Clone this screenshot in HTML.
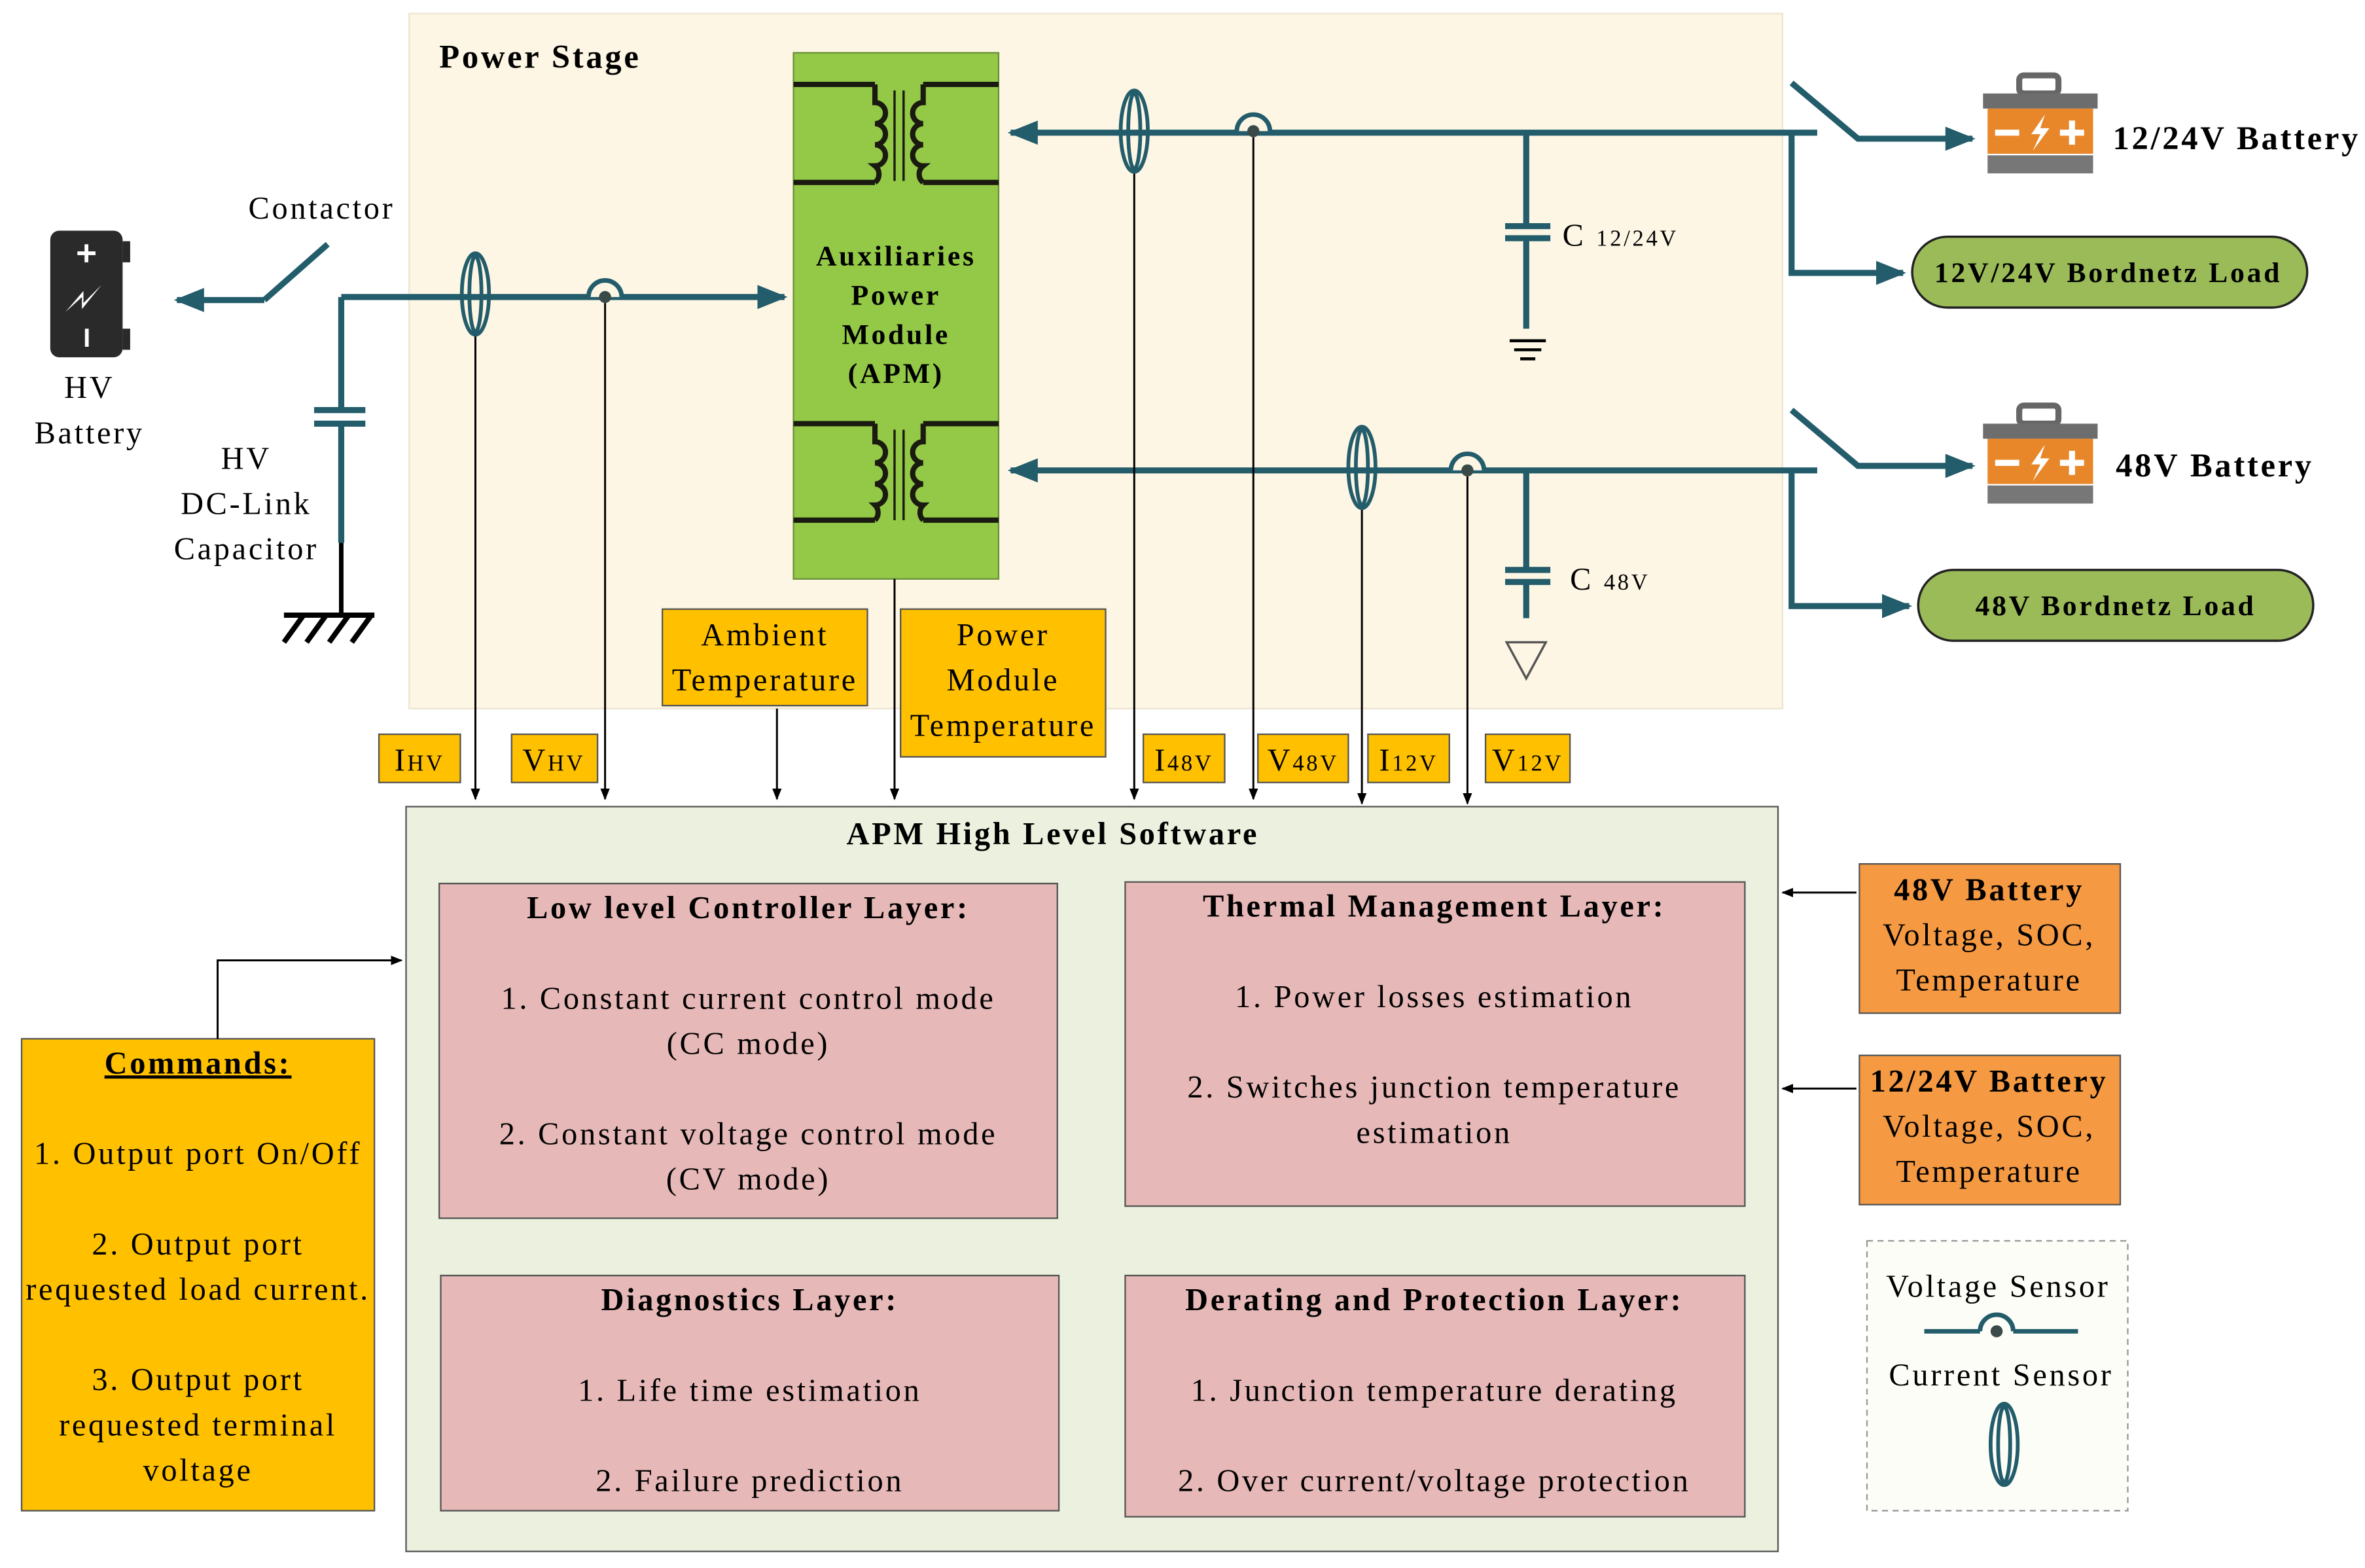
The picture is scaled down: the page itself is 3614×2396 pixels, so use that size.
<!DOCTYPE html>
<html><head><meta charset="utf-8"><style>
html,body{margin:0;padding:0;background:#fff}
svg{display:block}
text{font-family:"Liberation Serif",serif;fill:#000;letter-spacing:1.6px}
.b{font-weight:bold}
</style></head><body>
<svg width="3614" height="2396" viewBox="0 0 1568 1040" xmlns="http://www.w3.org/2000/svg">
<defs>
<marker id="ta" viewBox="0 0 10 10" refX="9" refY="5" markerWidth="5" markerHeight="5" orient="auto-start-reverse"><path d="M0,1 L10,5 L0,9 Z" fill="#235c6a"/></marker>
<marker id="ka" viewBox="0 0 10 10" refX="9" refY="5" markerWidth="6" markerHeight="6" orient="auto"><path d="M0,1 L10,5 L0,9 Z" fill="#000"/></marker>
</defs>
<!-- power stage -->
<rect x="271" y="9" width="911" height="461" fill="#fdf6e4" stroke="#ece5d0"/>
<text x="291" y="45" font-size="22" class="b">Power Stage</text>
<!-- APM -->
<rect x="526" y="35" width="136" height="349" fill="#93c947" stroke="#6b8f3a"/>
<g stroke="#1a1a10" stroke-width="3.5" fill="none">
<path d="M526,56 H580 M526,121 H580 M580,56 v12 a7,7 0 0 1 0,14 a7,7 0 0 1 0,14 a7,7 0 0 1 0,14 a7,7 0 0 1 0,11"/>
<path d="M662,56 H612 M662,121 H612 M612,56 v12 a7,7 0 0 0 0,14 a7,7 0 0 0 0,14 a7,7 0 0 0 0,14 a7,7 0 0 0 0,11"/>
<path d="M526,281 H580 M526,345 H580 M580,281 v12 a7,7 0 0 1 0,14 a7,7 0 0 1 0,14 a7,7 0 0 1 0,14 a7,7 0 0 1 0,10"/>
<path d="M662,281 H612 M662,345 H612 M612,281 v12 a7,7 0 0 0 0,14 a7,7 0 0 0 0,14 a7,7 0 0 0 0,14 a7,7 0 0 0 0,10"/>
</g>
<g stroke="#1a1a10" stroke-width="1.5"><path d="M593,60 V120 M599,60 V120 M593,285 V345 M599,285 V345"/></g>
<g font-size="19" class="b" text-anchor="middle"><text x="594" y="176">Auxiliaries</text><text x="594" y="202">Power</text><text x="594" y="228">Module</text><text x="594" y="254">(APM)</text></g>
<!-- HV side -->
<rect x="33" y="153" width="48" height="84" rx="6" fill="#2a2a2a"/>
<rect x="81" y="160" width="5" height="14" fill="#2a2a2a"/><rect x="81" y="218" width="5" height="14" fill="#2a2a2a"/>
<path d="M51,168 H63 M57,162 V174" stroke="#fff" stroke-width="2.5"/>
<path d="M43,207 L55,193 L55,201 L67,189 L54,205 L54,197 Z" fill="#fff"/>
<rect x="56" y="218" width="2.5" height="12" fill="#fff"/>
<text x="59" y="264" font-size="21" text-anchor="middle">HV</text>
<text x="59" y="294" font-size="21" text-anchor="middle">Battery</text>
<text x="213" y="145" font-size="21" text-anchor="middle">Contactor</text>
<g stroke="#235c6a" stroke-width="4" fill="none">
<path d="M175,199 H117" marker-end="url(#ta)"/>
<path d="M175,199 L217,162"/>
<path d="M226,197 H520" marker-end="url(#ta)"/>
<path d="M226,197 V272 M226,282 V360"/>
<path d="M208,272 H242 M208,281 H242"/>
</g>
<path d="M226,360 V408" stroke="#000" stroke-width="3"/>
<path d="M188,408 H248 M188,426 L201,408 M203,426 L216,408 M218,426 L231,408 M233,426 L246,408" stroke="#000" stroke-width="3.5" fill="none"/>
<g font-size="21" text-anchor="middle"><text x="163" y="311">HV</text><text x="163" y="341">DC-Link</text><text x="163" y="371">Capacitor</text></g>
<!-- upper bus -->
<g stroke="#235c6a" stroke-width="4" fill="none">
<path d="M1205,88 H670" marker-end="url(#ta)"/>
<path d="M1205,312 H670" marker-end="url(#ta)"/>
<path d="M1012,88 V150 M998,150 H1028 M998,158 H1028 M1012,158 V218"/>
<path d="M1012,312 V378 M998,378 H1028 M998,386 H1028 M1012,386 V410"/>
<path d="M1188,88 V181 H1262" marker-end="url(#ta)"/>
<path d="M1188,312 V402 H1266" marker-end="url(#ta)"/>
<path d="M1188,55 L1232,92 H1308" marker-end="url(#ta)"/>
<path d="M1188,272 L1232,309 H1308" marker-end="url(#ta)"/>
</g>
<path d="M1001,226 H1025 M1004,232 H1022 M1008,238 H1018" stroke="#000" stroke-width="2"/>
<path d="M999,426 H1025 L1012,450 Z" fill="none" stroke="#555" stroke-width="1.5"/>
<text x="1036" y="163" font-size="21">C <tspan font-size="15">12/24V</tspan></text>
<text x="1041" y="391" font-size="21">C <tspan font-size="15">48V</tspan></text>
<!-- sensing lines -->
<g stroke="#000" stroke-width="1.3" fill="none">
<path d="M315,222 V530" marker-end="url(#ka)"/><path d="M401,201 V530" marker-end="url(#ka)"/>
<path d="M515,470 V530" marker-end="url(#ka)"/><path d="M593,384 V530" marker-end="url(#ka)"/>
<path d="M752,114 V530" marker-end="url(#ka)"/><path d="M831,91 V530" marker-end="url(#ka)"/>
<path d="M903,337 V533" marker-end="url(#ka)"/><path d="M973,316 V533" marker-end="url(#ka)"/>
</g>
<!-- batteries -->
<g>
<rect x="1339" y="50" width="26" height="12" rx="3" fill="none" stroke="#666" stroke-width="4"/>
<rect x="1315" y="62" width="76" height="10" fill="#6d6d6d"/>
<rect x="1318" y="72" width="70" height="30" fill="#e8872a"/>
<rect x="1318" y="103" width="70" height="12" fill="#777"/>
<path d="M1323,88 H1339 M1366,88 H1382 M1374,80 V96" stroke="#fff" stroke-width="4"/>
<path d="M1356,76 L1347,89 L1353,89 L1348,100 L1359,85 L1353,85 Z" fill="#fff"/>
</g>
<g transform="translate(0,219)">
<rect x="1339" y="50" width="26" height="12" rx="3" fill="none" stroke="#666" stroke-width="4"/>
<rect x="1315" y="62" width="76" height="10" fill="#6d6d6d"/>
<rect x="1318" y="72" width="70" height="30" fill="#e8872a"/>
<rect x="1318" y="103" width="70" height="12" fill="#777"/>
<path d="M1323,88 H1339 M1366,88 H1382 M1374,80 V96" stroke="#fff" stroke-width="4"/>
<path d="M1356,76 L1347,89 L1353,89 L1348,100 L1359,85 L1353,85 Z" fill="#fff"/>
</g>
<text x="1401" y="99" font-size="22" class="b">12/24V Battery</text>
<text x="1403" y="316" font-size="22" class="b">48V Battery</text>
<rect x="1268" y="157" width="262" height="47" rx="23.5" fill="#9bbb59" stroke="#222" stroke-width="1.5"/>
<text x="1398" y="187" font-size="19" class="b" text-anchor="middle">12V/24V Bordnetz Load</text>
<rect x="1272" y="378" width="262" height="47" rx="23.5" fill="#9bbb59" stroke="#222" stroke-width="1.5"/>
<text x="1403" y="408" font-size="19" class="b" text-anchor="middle">48V Bordnetz Load</text>
<!-- yellow labels -->
<g fill="#ffc000" stroke="#555" stroke-width="1">
<rect x="439" y="404" width="136" height="64"/><rect x="597" y="404" width="136" height="98"/>
<rect x="251" y="487" width="54" height="32"/><rect x="339" y="487" width="57" height="32"/>
<rect x="758" y="487" width="54" height="32"/><rect x="834" y="487" width="60" height="32"/>
<rect x="907" y="487" width="54" height="32"/><rect x="985" y="487" width="56" height="32"/>
</g>
<g font-size="21" text-anchor="middle">
<text x="507" y="428">Ambient</text><text x="507" y="458">Temperature</text>
<text x="665" y="428">Power</text><text x="665" y="458">Module</text><text x="665" y="488">Temperature</text>
<text x="278" y="511">I<tspan font-size="15">HV</tspan></text><text x="367" y="511">V<tspan font-size="15">HV</tspan></text>
<text x="785" y="511">I<tspan font-size="15">48V</tspan></text><text x="864" y="511">V<tspan font-size="15">48V</tspan></text>
<text x="934" y="511">I<tspan font-size="15">12V</tspan></text><text x="1013" y="511">V<tspan font-size="15">12V</tspan></text>
</g>
<!-- software -->
<rect x="269" y="535" width="910" height="494" fill="#ebf1de" stroke="#555" stroke-width="1"/>
<text x="698" y="560" font-size="21" class="b" text-anchor="middle">APM High Level Software</text>
<g fill="#e6b8b7" stroke="#555" stroke-width="1">
<rect x="291" y="586" width="410" height="222"/><rect x="746" y="585" width="411" height="215"/>
<rect x="292" y="846" width="410" height="156"/><rect x="746" y="846" width="411" height="160"/>
</g>
<g font-size="21" text-anchor="middle">
<text x="496" y="609" class="b">Low level Controller Layer:</text>
<text x="496" y="669">1. Constant current control mode</text><text x="496" y="699">(CC mode)</text>
<text x="496" y="759">2. Constant voltage control mode</text><text x="496" y="789">(CV mode)</text>
<text x="951" y="608" class="b">Thermal Management Layer:</text>
<text x="951" y="668">1. Power losses estimation</text>
<text x="951" y="728">2. Switches junction temperature</text><text x="951" y="758">estimation</text>
<text x="497" y="869" class="b">Diagnostics Layer:</text>
<text x="497" y="929">1. Life time estimation</text><text x="497" y="989">2. Failure prediction</text>
<text x="951" y="869" class="b">Derating and Protection Layer:</text>
<text x="951" y="929">1. Junction temperature derating</text><text x="951" y="989">2. Over current/voltage protection</text>
</g>
<!-- commands -->
<rect x="14" y="689" width="234" height="313" fill="#ffc000" stroke="#555"/>
<g font-size="21" text-anchor="middle">
<text x="131" y="712" class="b" text-decoration="underline">Commands:</text>
<text x="131" y="772">1. Output port On/Off</text>
<text x="131" y="832">2. Output port</text><text x="131" y="862">requested load current.</text>
<text x="131" y="922">3. Output port</text><text x="131" y="952">requested terminal</text><text x="131" y="982">voltage</text>
</g>
<path d="M144,689 V637 H266" stroke="#000" stroke-width="1.3" fill="none" marker-end="url(#ka)"/>
<!-- battery info -->
<rect x="1233" y="573" width="173" height="99" fill="#f59a42" stroke="#555"/>
<rect x="1233" y="700" width="173" height="99" fill="#f59a42" stroke="#555"/>
<g font-size="21" text-anchor="middle">
<text x="1319" y="597" class="b">48V Battery</text><text x="1319" y="627">Voltage, SOC,</text><text x="1319" y="657">Temperature</text>
<text x="1319" y="724" class="b">12/24V Battery</text><text x="1319" y="754">Voltage, SOC,</text><text x="1319" y="784">Temperature</text>
</g>
<path d="M1231,592 H1182" stroke="#000" stroke-width="1.3" marker-end="url(#ka)"/>
<path d="M1231,722 H1182" stroke="#000" stroke-width="1.3" marker-end="url(#ka)"/>
<!-- legend -->
<rect x="1238" y="823" width="173" height="179" fill="#fdfdf8" stroke="#999" stroke-dasharray="4,3"/>
<g font-size="21" text-anchor="middle"><text x="1325" y="860">Voltage Sensor</text><text x="1327" y="919">Current Sensor</text></g>
<path d="M1276,883 H1313 M1335,883 H1378" stroke="#235c6a" stroke-width="3"/>
<!-- current sensors -->
<g fill="none" stroke="#235c6a" stroke-width="2.5">
<ellipse cx="315" cy="195" rx="9" ry="27"/><ellipse cx="315" cy="195" rx="4" ry="25"/>
<ellipse cx="752" cy="87" rx="9" ry="27"/><ellipse cx="752" cy="87" rx="4" ry="25"/>
<ellipse cx="903" cy="310" rx="9" ry="27"/><ellipse cx="903" cy="310" rx="4" ry="25"/>
<ellipse cx="1329" cy="958" rx="9" ry="27"/><ellipse cx="1329" cy="958" rx="4" ry="25"/>
</g>
<!-- voltage sensors -->
<g fill="#fdf6e4" stroke="#235c6a" stroke-width="3">
<path d="M390,197 a11,11 0 0 1 22,0"/><path d="M820,87 a11,11 0 0 1 22,0"/><path d="M962,312 a11,11 0 0 1 22,0"/>
<path d="M1313,883 a11,11 0 0 1 22,0" fill="#fdfdf8"/>
</g>
<g fill="#3a4a48"><circle cx="401" cy="197" r="4"/><circle cx="831" cy="87" r="4"/><circle cx="973" cy="312" r="4"/><circle cx="1324" cy="883" r="4"/></g>
</svg>
</body></html>
